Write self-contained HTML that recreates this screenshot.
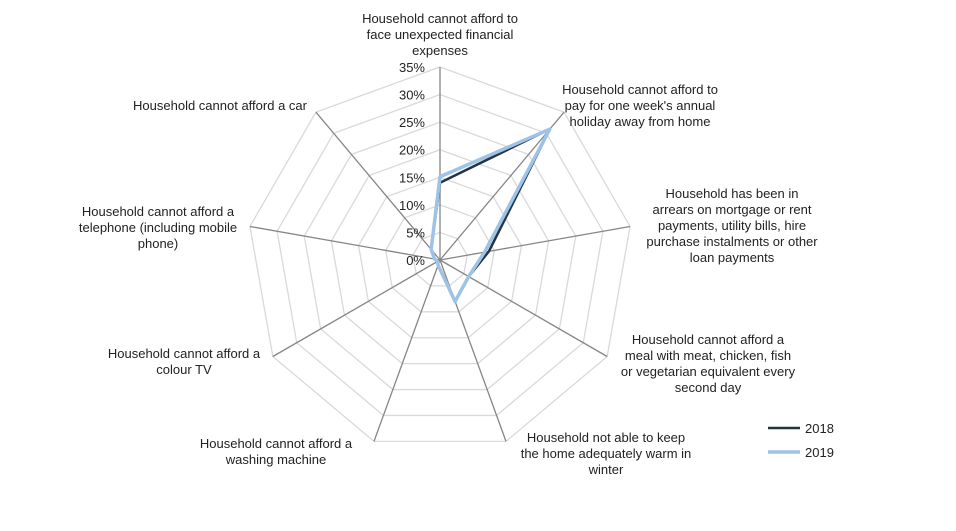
<!DOCTYPE html>
<html><head><meta charset="utf-8"><style>
body{margin:0;background:#fff;font-family:"Liberation Sans",Arial,sans-serif;}
svg text{font-family:"Liberation Sans",Arial,sans-serif;font-size:13px;fill:#222;}
</style></head><body>
<svg id="chart" width="956" height="526"></svg>
<script>
const categories=["Household cannot afford to|face unexpected financial|expenses","Household cannot afford to|pay for one week's annual|holiday away from home","Household has been in|arrears on mortgage or rent|payments, utility bills, hire|purchase instalments or other|loan payments","Household cannot afford a|meal with meat, chicken, fish|or vegetarian equivalent every|second day","Household not able to keep|the home adequately warm in|winter","Household cannot afford a|washing machine","Household cannot afford a|colour TV","Household cannot afford a|telephone (including mobile|phone)","Household cannot afford a car"];
const series2018=[14,31,9,6,8,1,0.5,1,2.5];
const series2019=[15.1,31,8.2,6,8,1,0.5,1,2.5];
const tickLabels=["0%","5%","10%","15%","20%","25%","30%","35%"];
const tickValues=[0,5,10,15,20,25,30,35];
const ns="http://www.w3.org/2000/svg",svg=document.getElementById("chart");
const cx=440,cy=260,R=193,maxV=35;
function pt(i,v){const a=i*2*Math.PI/categories.length;const r=v/maxV*R;return [cx+r*Math.sin(a),cy-r*Math.cos(a)];}
function mk(t,at){const e=document.createElementNS(ns,t);for(const k in at)e.setAttribute(k,at[k]);svg.appendChild(e);return e;}
tickValues.forEach((tv,j)=>{if(tv===0)return;
 const p=categories.map((c,i)=>pt(i,tv).join(",")).join(" ");
 const g=mk("polygon",{points:p,fill:"none",stroke:"#d9d9d9","stroke-width":1.3});
 
 
});
categories.forEach((c,i)=>{const e=pt(i,maxV);
 const l=mk("line",{x1:cx,y1:cy,x2:e[0],y2:e[1],stroke:"#868686","stroke-width":1.3});
 
 
});
tickValues.forEach((tv,j)=>{const y=cy-tv/maxV*R;
 const t=mk("text",{x:425,y:y+5,"text-anchor":"end"});t.textContent=tickLabels[j];
 
 
});
const labelPos=[[440,23,"middle"],[640,94,"middle"],[732,198,"middle"],[708,344,"middle"],[606,442,"middle"],[276,448,"middle"],[184,358,"middle"],[158,216,"middle"],[220,110,"middle"]];
categories.forEach((c,i)=>{const lp=labelPos[i];
 const t=mk("text",{x:lp[0],y:lp[1],"text-anchor":lp[2]});
 
 
 c.split("|").forEach((s,k)=>{const ts=document.createElementNS(ns,"tspan");ts.setAttribute("x",lp[0]);ts.setAttribute("dy",k?16:0);ts.textContent=s;t.appendChild(ts);});
});
function series(vals,color,w,name){
 const p=vals.map((v,i)=>pt(i,v).join(",")).join(" ");
 const g=mk("polygon",{points:p,fill:"none",stroke:color,"stroke-width":w,"stroke-linejoin":"round"});
 
 
}
series(series2018,"#243447",2.5,"series-2018");
series(series2019,"#9dc3e6",3.5,"series-2019");
[["2018","#243447",2.5,428],["2019","#9dc3e6",3.5,452]].forEach(d=>{
 const l=mk("line",{x1:768,y1:d[3],x2:800,y2:d[3],stroke:d[1],"stroke-width":d[2]});
 
 
 const t=mk("text",{x:805,y:d[3]+5});t.textContent=d[0];
 
 
});
</script>
</body></html>
